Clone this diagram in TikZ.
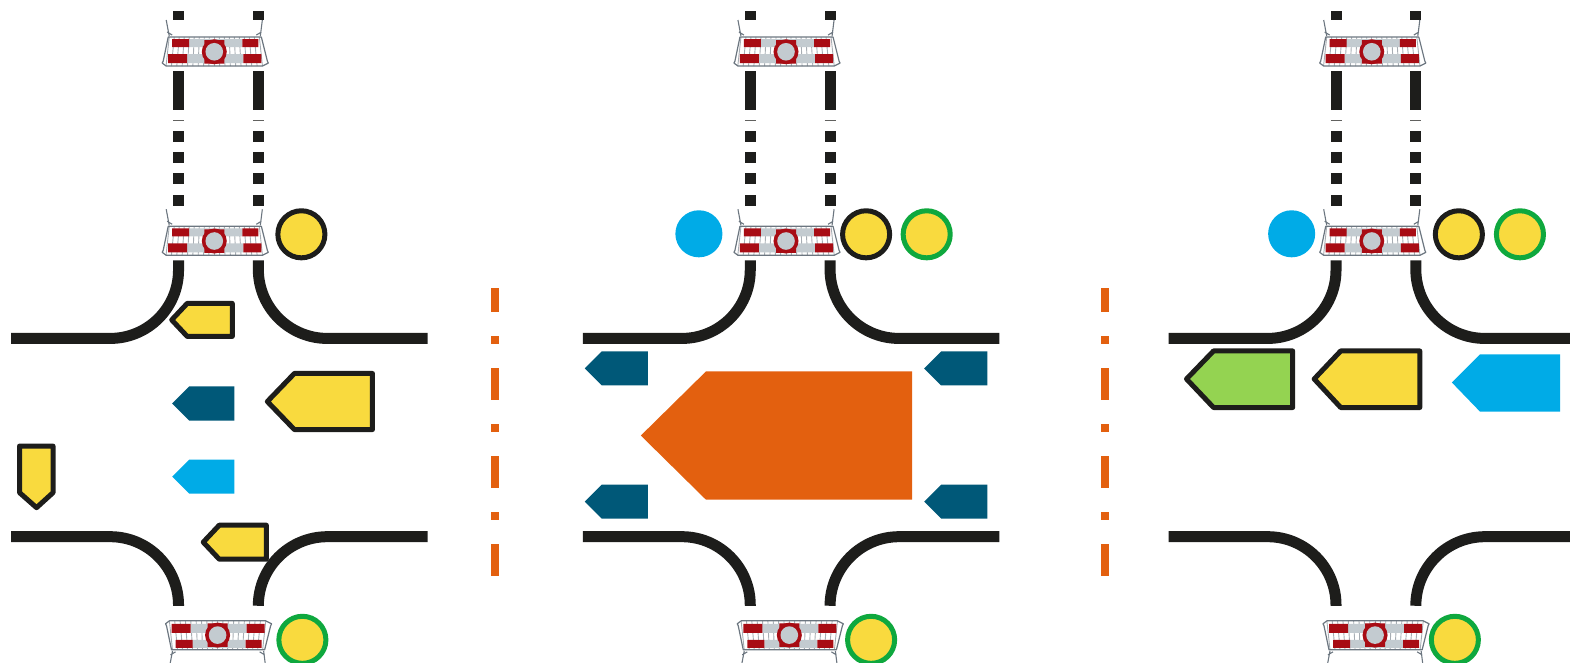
\documentclass[tikz,border=0pt]{standalone}
\usepackage{tikz}
\definecolor{roadblack}{HTML}{1D1D1B}
\definecolor{signyellow}{HTML}{F9DA3E}
\definecolor{signgreen}{HTML}{94D351}
\definecolor{ringgreen}{HTML}{0FA83E}
\definecolor{signblue}{HTML}{00ABE7}
\definecolor{signteal}{HTML}{005878}
\definecolor{signorange}{HTML}{E3600F}
\definecolor{barrierred}{HTML}{A80C14}
\definecolor{barriergrey}{HTML}{C3CBD0}
\definecolor{railgrey}{HTML}{6C7680}
\tikzset{
  road/.style={draw=roadblack, line width=11pt, line cap=butt},
  sign/.style={draw=roadblack, line width=5pt, line join=round, fill=signyellow},
  ring/.style={draw=#1, line width=5pt, fill=signyellow},
  pics/barrier/.style={code={
    % ticks below the bars
    \foreach \tx in {-45,-40,...,45}
      \draw[railgrey!60, line width=0.9pt] (\tx,-13) -- (\tx*1.07,16);
    % bars
    \fill[barriergrey] (-25,-11) rectangle (28,-3) (-27,4) rectangle (29,13);
    \fill[barrierred] (-42,-11) rectangle (-25,-3) (-46,4) rectangle (-27,13)
      (28,-11) rectangle (44,-3) (29,4) rectangle (47,13) (-10,-10) rectangle (10,13.5);
    \fill[barrierred] (0,1.7) circle (12.5);
    \fill[barriergrey] (0,1.7) circle (8.8);
    % rails and feet
    \draw[railgrey, line width=1.2pt, line join=round] (-46,-13) -- (47,-13) -- (53,11) -- (54,13) -- (48,16) -- (-48,16) -- (-52,13) -- (-51,11) -- cycle;
    \draw[railgrey, line width=1.1pt] (-48,-30) -- (-45,-14) (-47,-18) -- (-42,-15)
      (48,-30) -- (46,-14) (47,-18) -- (42,-15);
  }}
}
\begin{document}
\begin{tikzpicture}[x=1.00128pt,y=-1.00128pt]
\useasboundingbox (0,0) rectangle (1568,662);
\clip (0,0) rectangle (1568,662);
% roads of the three panels
\foreach \dx in {0,571,1156} {
  \begin{scope}[shift={(\dx,0)}]
  \draw[road] (11,338) -- (110,338) arc[start angle=90,end angle=0,radius=68.3] -- (178.3,260);
  \draw[road] (427,338) -- (327,338) arc[start angle=90,end angle=180,radius=69] -- (258,260);
  \draw[road] (11,536) -- (110,536) arc[start angle=-90,end angle=0,radius=68.3] -- (178.3,605);
  \draw[road] (427,536) -- (327,536) arc[start angle=-90,end angle=-180,radius=69] -- (258,605);
  \foreach \rx in {178.3,258} {
    \draw[road] (\rx,11) -- (\rx,20) (\rx,71) -- (\rx,110);
    \draw[roadblack!70, line width=0.6pt] (\rx-5.5,120) -- (\rx+5.5,120);
    \foreach \ry in {131,152,173,195}
      \draw[road] (\rx,\ry) -- (\rx,\ry+11);
  }
  \path (214,50) pic {barrier} (214,239) pic {barrier};
  \path (217.3,636) pic[yscale=-1] {barrier};
  \end{scope}
}
% separators
\foreach \sx in {494.5,1103.5}
  \draw[signorange, line width=8pt, dash pattern=on 32pt off 24pt on 8pt off 24pt, dash phase=8pt] (\sx,288) -- (\sx,576);
% left panel
\draw[sign] (171.5,319.5) -- (187,303) -- (232,303) -- (232,336) -- (187,336) -- cycle;
\draw[sign] (267,401) -- (294,373) -- (372,373) -- (372,429) -- (294,429) -- cycle;
\fill[signteal] (172,403) -- (189,386) -- (234,386) -- (234,420) -- (189,420) -- cycle;
\fill[signblue] (172,476) -- (189,459) -- (234,459) -- (234,493) -- (189,493) -- cycle;
\draw[sign] (19.5,445.5) -- (53,445.5) -- (53,492) -- (36.5,507) -- (19.5,492) -- cycle;
\draw[sign] (203,541.5) -- (219,524.5) -- (266,524.5) -- (266,558.5) -- (219,558.5) -- cycle;
\draw[ring=roadblack] (301,234) circle (23.5);
\draw[ring=ringgreen] (302,639) circle (23.5);
% middle panel
\fill[signorange] (640,435) -- (705,371) -- (911,371) -- (911,499) -- (705,499) -- cycle;
\foreach \ax/\ay in {584/368,584/501,923/368,923/501}
  \fill[signteal] (\ax,\ay) -- (\ax+17,\ay-17) -- (\ax+63,\ay-17) -- (\ax+63,\ay+17) -- (\ax+17,\ay+17) -- cycle;
\fill[signblue] (698,233.5) circle (23.5);
\draw[ring=roadblack] (865,234) circle (23.5);
\draw[ring=ringgreen] (925.5,234) circle (23.5);
\draw[ring=ringgreen] (870,639) circle (23.5);
% right panel
\draw[sign,fill=signgreen] (1185,378.5) -- (1212,350.5) -- (1291,350.5) -- (1291,407) -- (1212,407) -- cycle;
\draw[sign] (1312.5,378.5) -- (1339,350.5) -- (1418,350.5) -- (1418,407) -- (1339,407) -- cycle;
\fill[signblue] (1450,382) -- (1478,354) -- (1558,354) -- (1558,411) -- (1478,411) -- cycle;
\fill[signblue] (1290,233.5) circle (23.5);
\draw[ring=roadblack] (1457,234) circle (23.5);
\draw[ring=ringgreen] (1518,234) circle (23.5);
\draw[ring=ringgreen] (1453,639) circle (23.5);
\end{tikzpicture}
\end{document}
